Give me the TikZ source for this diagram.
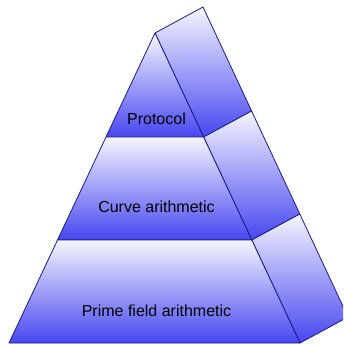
\documentclass[tikz,border=0pt]{standalone}
\usepackage{fontspec}
\setmainfont{Liberation Sans}
\definecolor{edgeblue}{HTML}{1A1A8C}
\definecolor{toplight}{HTML}{F6F6FF}
\definecolor{botblue}{HTML}{4646F0}

\begin{document}
\begin{tikzpicture}[x=1pt,y=-1pt,line join=round,
    face/.style={draw=edgeblue,line width=0.8pt,top color=toplight,bottom color=botblue},
    layer/.style={font=\fontsize{16}{19}\selectfont,text=black}]
    \useasboundingbox (0,0) rectangle (343,347);
    \clip (0,0) rectangle (343,347);

    % front corners
    \coordinate (a)  at (155,33);
    \coordinate (l1) at (106,137);
    \coordinate (r1) at (203.6,137);
    \coordinate (l2) at (57.5,240);
    \coordinate (r2) at (251.8,240);
    \coordinate (l3) at (9,343);
    \coordinate (r3) at (300,343);
    % back corners
    \coordinate (ab) at (203,7);
    \coordinate (r1b) at (251.6,111);
    \coordinate (r2b) at (299.8,214);
    \coordinate (r3b) at (348,317);

    % side faces
    \shade[face] (a) -- (ab) -- (r1b) -- (r1) -- cycle;
    \shade[face] (r1) -- (r1b) -- (r2b) -- (r2) -- cycle;
    \shade[face] (r2) -- (r2b) -- (r3b) -- (r3) -- cycle;

    % front faces
    \shade[face] (a) -- (r1) -- (l1) -- cycle;
    \shade[face] (l1) -- (r1) -- (r2) -- (l2) -- cycle;
    \shade[face] (l2) -- (r2) -- (r3) -- (l3) -- cycle;

    \node[layer] (protocol) at (156.5,119) {Protocol};
    \node[layer] (curve) at (156.5,207) {Curve arithmetic};
    \node[layer] (prime) at (156.5,311) {Prime field arithmetic};
\end{tikzpicture}
\end{document}
